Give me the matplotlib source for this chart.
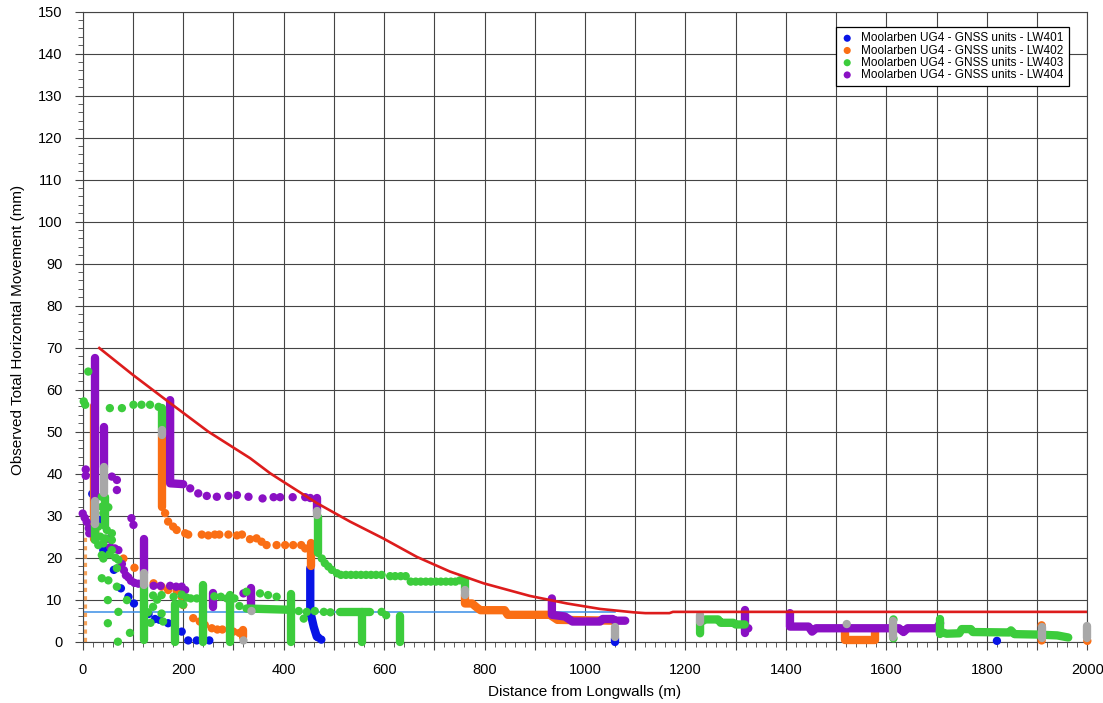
import matplotlib.pyplot as plt
from matplotlib.ticker import MultipleLocator, FuncFormatter

plt.rcParams['font.family'] = ['Liberation Sans', 'DejaVu Sans']

# ---- Monitoring data (distance from longwall in m, movement in mm) ----
# LW401 - blue
lw401_x = [19, 34, 41, 47, 62, 76, 91, 102, 131, 144, 153, 170, 197, 210, 227, 252, 469, 475, 1820]
lw401_y = [35.2, 29.0, 21.8, 22.2, 17.1, 12.7, 10.7, 9.1, 6.6, 5.4, 5.2, 4.4, 2.4, 0.3, 0.3, 0.3, 1.0, 0.5, 0.2]
lw401_runs_x = [[453, 453, 460, 466], [1060, 1060]]
lw401_runs_y = [[17.5, 7.1, 3.5, 1.2], [0.0, 0.8]]

# LW402 - orange
lw402_x = [20, 25, 81, 103, 141, 157, 170, 187, 197, 200, 220, 233, 243, 257, 268, 278, 300, 312,
           164, 170, 180, 187, 204, 210, 237, 250, 263, 272, 290, 307, 317, 333, 346, 356, 366,
           386, 403, 419, 435, 443, 1060, 1909, 1909, 2000]
lw402_y = [26.6, 26.2, 19.8, 17.6, 13.9, 13.1, 12.3, 12.1, 10.7, 8.7, 5.6, 4.8, 4.0, 3.2, 2.9, 2.9, 2.4, 2.1,
           30.6, 28.6, 27.4, 26.6, 25.8, 25.5, 25.5, 25.3, 25.5, 25.5, 25.5, 25.3, 25.5, 24.4, 24.6, 23.8, 23.0,
           23.0, 23.0, 23.0, 23.0, 22.2, 4.6, 3.9, 0.3, 0.2]
lw402_runs_x = [[22, 22], [157, 157], [454, 454], [320, 320],
                [761, 761, 775, 786, 792, 840, 846, 930, 945, 1060],
                [1518, 1518, 1578, 1578]]
lw402_runs_y = [[24.5, 56], [32, 49.2], [17.9, 23.4], [1.0, 2.9],
                [11.1, 9.1, 9.1, 8.0, 7.5, 7.5, 6.4, 6.4, 5.2, 5.0],
                [2.4, 0.4, 0.4, 2.4]]

# LW403 - green
lw403_x = [11, 2, 5, 54, 78, 101, 117, 134, 151,
           38, 38, 41, 51, 31, 35, 48, 58, 24.5, 31, 41, 45, 58, 58, 38, 41, 53, 65, 71, 68, 38, 51, 68,
           50, 88, 71, 50, 94, 70,
           140, 148, 140, 130, 135, 157, 157, 160, 181, 194, 197, 207, 200, 215, 227, 262, 275, 287, 302,
           312, 326, 353, 369, 386, 430, 446, 440, 462, 480, 493, 595, 604,
           476, 482, 489, 496, 506, 514, 524, 534, 544, 554, 564, 574, 584, 595, 612, 622, 633, 643,
           653, 663, 673, 683, 693, 703, 713, 723, 733, 742, 751, 1614, 1614]
lw403_y = [64.3, 57.2, 56.4, 55.6, 55.6, 56.4, 56.4, 56.4, 55.9,
           34.5, 32.1, 30.6, 32.0, 27.4, 25.0, 26.6, 25.8, 24.2, 23.0, 23.4, 24.6, 24.2, 21.8, 20.6, 19.8, 20.8,
           20.0, 19.5, 17.5, 15.1, 14.6, 13.1,
           9.9, 9.9, 7.1, 4.4, 2.1, 0.0,
           11.0, 10.0, 8.3, 7.0, 4.5, 11.1, 6.7, 4.8, 10.7, 9.1, 11.2, 10.5, 8.8, 10.3, 10.3, 10.8, 10.7, 10.3,
           10.3, 8.5, 11.9, 11.5, 11.1, 10.7, 7.3, 7.1, 5.5, 7.3, 7.1, 7.0, 7.1, 6.3,
           19.8, 18.7, 17.9, 17.1, 16.3, 15.9, 15.9, 15.9, 15.9, 15.9, 15.9, 15.9, 15.9, 15.9, 15.6, 15.6, 15.6,
           15.6, 14.3, 14.3, 14.3, 14.3, 14.3, 14.3, 14.3, 14.3, 14.3, 14.3, 14.6, 5.3, 0.8]
lw403_runs_x = [[44, 44], [25, 25], [157, 157], [122, 122], [183, 183], [240, 240], [293, 293],
                [326, 413], [414, 414], [469, 469], [512, 572], [556, 556], [632, 632], [761, 761],
                [1229, 1229, 1240, 1265, 1270, 1295, 1300, 1318],
                [1706, 1706],
                [1706, 1720, 1745, 1750, 1768, 1772, 1845, 1848, 1855, 1900, 1940, 1962]]
lw403_runs_y = [[27.5, 34.5], [24.5, 28], [50.4, 55.6], [0.5, 13.5], [0, 9], [0, 13.5], [0, 11.1],
                [7.9, 7.6], [0, 11.3], [21, 29.8], [7.1, 7.1], [0, 7.1], [0, 6.0], [12.3, 14.7],
                [2.0, 4.6, 5.3, 5.3, 4.5, 4.5, 4.1, 4.1],
                [1.8, 5.5],
                [2.4, 1.9, 2.0, 3.0, 3.0, 2.3, 2.2, 2.7, 1.8, 1.7, 1.5, 1.0]]

# LW404 - purple
lw404_x = [6, 6, 0, 4, 8, 12, 13, 58, 68, 68, 97, 101, 50, 55, 64, 71, 78, 82, 86, 91, 96, 103, 111,
           141, 155, 174, 186, 197, 204, 320,
           214, 230, 247, 267, 290, 307, 330, 358, 380, 393, 418, 443, 453, 1325]
lw404_y = [41, 39.5, 30.5, 29.5, 28.5, 27, 25.8, 39.3, 38.5, 36.1, 29.4, 27.8, 24.5, 22.5, 22.2, 21.8,
           18.5, 17, 15.8, 15.3, 14.5, 14, 13.8,
           13.3, 13.3, 13.3, 13.1, 13.1, 12.3, 11.5,
           36.5, 35.3, 34.7, 34.5, 34.7, 34.9, 34.5, 34.1, 34.4, 34.4, 34.4, 34.4, 34.2, 3.2]
lw404_runs_x = [[25, 25], [43, 43], [121, 121], [174, 174, 200], [260, 260], [336, 336], [466, 466],
                [934, 934, 960, 975, 1030, 1035, 1055, 1060, 1080],
                [1319, 1319],
                [1408, 1408, 1445, 1452, 1460, 1625, 1634, 1642, 1700, 1707]]
lw404_runs_y = [[33.5, 67.5], [41.7, 51], [16.3, 24.5], [57.5, 37.7, 37.5], [8.3, 11.5], [8.7, 12.7],
                [31, 34.1],
                [10.3, 6.4, 6.0, 4.8, 4.8, 5.4, 5.4, 5.0, 5.0],
                [2.0, 7.5],
                [6.8, 3.6, 3.6, 2.4, 3.2, 3.2, 2.3, 3.2, 3.2, 4.4]]

# unassigned readings - grey
grey_x = [336, 320, 1521]
grey_y = [7.3, 0.3, 4.2]
grey_runs_x = [[25, 25], [43, 43], [121, 121], [157, 157], [466, 466], [761, 761], [1060, 1060],
               [1229, 1229], [1614, 1614], [1909, 1909], [2000, 2000]]
grey_runs_y = [[28, 33.5], [35.3, 41.7], [13.5, 16.3], [49.2, 50.4], [30.2, 31], [11.1, 12.3], [1.2, 3.6],
               [4.6, 6.3], [1.2, 5.0], [0.8, 3.6], [0.8, 3.7]]

# upper bound curve
bound_x = [33, 100, 174, 250, 333, 373, 399, 466, 532, 598, 665, 731, 798, 890, 964, 1030, 1096,
           1120, 1168, 1175, 2000]
bound_y = [69.9, 63.5, 56.8, 50.0, 43.7, 40.1, 38.1, 33.0, 28.6, 24.6, 20.2, 16.7, 13.9, 10.9, 9.1,
           7.8, 7.0, 6.8, 6.8, 7.1, 7.1]

# reference level
ref_x = [0, 1060]
ref_y = [7.0, 7.0]

# survey marker near the goaf edge
edge_x = [4, 4]
edge_y = [0, 25]

series = [
    ('Moolarben UG4 - GNSS units - LW401', '#0814e6', lw401_x, lw401_y, lw401_runs_x, lw401_runs_y),
    ('Moolarben UG4 - GNSS units - LW402', '#fa6e14', lw402_x, lw402_y, lw402_runs_x, lw402_runs_y),
    ('Moolarben UG4 - GNSS units - LW404', '#8a10c4', lw404_x, lw404_y, lw404_runs_x, lw404_runs_y),
    ('Moolarben UG4 - GNSS units - LW403', '#3ccc3c', lw403_x, lw403_y, lw403_runs_x, lw403_runs_y),
    (None, '#a8a8a8', grey_x, grey_y, grey_runs_x, grey_runs_y),
]

fig = plt.figure(figsize=(11.03, 7.03), dpi=100)
ax = fig.add_axes([0.075, 0.0872, 0.9108, 0.8964])

dot = 36
run_w = 6.0
handles = {}
ax.plot(ref_x, ref_y, color='#3a8ee6', lw=1.1, zorder=2)
ax.plot(edge_x, edge_y, color='#f5a35c', lw=3, ls=(0, (1, 1)), zorder=2)

for i, (label, col, xs, ys, rxs, rys) in enumerate(series):
    z = 3 + i
    for rx, ry in zip(rxs, rys):
        ax.plot(rx, ry, color=col, lw=run_w, solid_capstyle='round',
                solid_joinstyle='round', zorder=z, clip_on=False)
    sc = ax.scatter(xs, ys, s=dot, color=col, edgecolors='none', zorder=z, clip_on=False)
    if label:
        handles[label] = sc

ax.plot(bound_x, bound_y, color='#dd1c1c', lw=1.9, zorder=9)

ax.set_xlim(0, 2000)
ax.set_ylim(0, 150)

ax.xaxis.set_major_locator(MultipleLocator(100))
ax.xaxis.set_minor_locator(MultipleLocator(20))
ax.xaxis.set_major_formatter(FuncFormatter(lambda v, p: f'{v:.0f}' if round(v) % 200 == 0 else ''))
ax.yaxis.set_major_locator(MultipleLocator(10))
ax.yaxis.set_minor_locator(MultipleLocator(2))

grid_col = '#444444'
ax.grid(which='major', color=grid_col, lw=0.8)
for s in ax.spines.values():
    s.set_color(grid_col)
    s.set_linewidth(0.8)
ax.tick_params(which='major', length=6, width=0.8, color=grid_col, labelsize=10.5)
ax.tick_params(which='minor', length=3.5, width=0.6, color=grid_col)
ax.tick_params(axis='x', which='major', pad=9)
ax.tick_params(axis='y', which='major', pad=8.5)

fig.text(585 / 1103, 1 - 692 / 703, 'Distance from Longwalls (m)', ha='center', va='center', fontsize=11)
fig.text(18 / 1103, 1 - 330 / 703, 'Observed Total Horizontal Movement (mm)', ha='center', va='center',
         rotation=90, fontsize=11)

order = ['Moolarben UG4 - GNSS units - LW401', 'Moolarben UG4 - GNSS units - LW402',
         'Moolarben UG4 - GNSS units - LW403', 'Moolarben UG4 - GNSS units - LW404']
leg = ax.legend([handles[k] for k in order], order, loc='upper right',
                bbox_to_anchor=(0.9818, 0.9754), borderaxespad=0, fontsize=8.5,
                labelspacing=0.02, handlelength=1.0, handletextpad=0.7, borderpad=0.45,
                fancybox=False, edgecolor='black', framealpha=1, scatterpoints=1, markerscale=0.85)
leg.get_frame().set_linewidth(0.9)
leg.set_zorder(20)

fig.savefig('out.png', dpi=100)
